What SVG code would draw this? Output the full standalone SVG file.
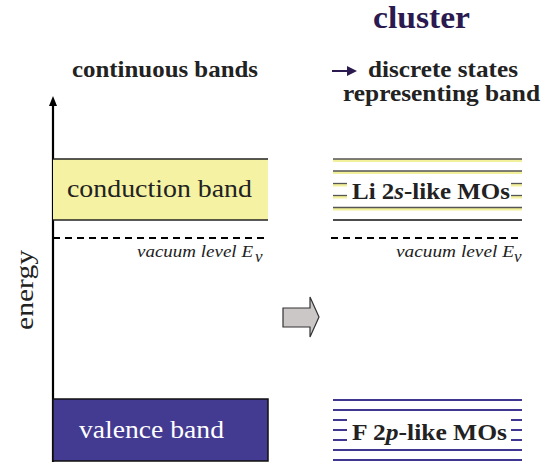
<svg xmlns="http://www.w3.org/2000/svg" width="550" height="464" viewBox="0 0 550 464">
<defs>
<style>
.serif{font-family:"Liberation Serif","Times New Roman",serif;}
.hdr{font-size:23px;font-weight:bold;fill:#222;}
.ylw{stroke:#f2f09a;stroke-width:3;}
.ydk{stroke:#555;stroke-width:1.3;}
.blu{stroke:#3e3690;stroke-width:2;}
.dash{stroke:#000;stroke-width:2;stroke-dasharray:7,5;}
.vac{font-size:17px;font-style:italic;fill:#222;}
</style>
</defs>
<rect width="550" height="464" fill="#fff"/>

<g id="titles" class="serif">
<text x="373" y="28" font-size="31" font-weight="bold" fill="#2b1a4f" textLength="97" lengthAdjust="spacingAndGlyphs">cluster</text>
<text x="72" y="77" class="hdr" textLength="186" lengthAdjust="spacingAndGlyphs">continuous bands</text>
<text x="368" y="77" class="hdr" textLength="150" lengthAdjust="spacingAndGlyphs">discrete states</text>
<text x="343" y="101" class="hdr" textLength="197" lengthAdjust="spacingAndGlyphs">representing band</text>
</g>
<g id="hdr-arrow">
<line x1="332" y1="71" x2="350" y2="71" stroke="#2b1a4f" stroke-width="2"/>
<path d="M347,66 L357,71 L347,76 Z" fill="#2b1a4f"/>
</g>

<g id="energy-axis">
<line x1="53" y1="462" x2="53" y2="106" stroke="#000" stroke-width="2.2"/>
<path d="M49,106 L53,96 L57,106 Z" fill="#000"/>
<text class="serif" x="0" y="0" font-size="26" fill="#222" textLength="80" lengthAdjust="spacingAndGlyphs" transform="translate(33,330) rotate(-90)">energy</text>
</g>

<g id="conduction-band">
<rect x="53" y="159" width="215" height="61" fill="#f5f3a3"/>
<line x1="53" y1="159" x2="268" y2="159" stroke="#222" stroke-width="1.5"/>
<line x1="53" y1="220" x2="268" y2="220" stroke="#222" stroke-width="1.5"/>
<text class="serif" x="67" y="197" font-size="26" fill="#222" textLength="185" lengthAdjust="spacingAndGlyphs">conduction band</text>
</g>

<g id="vacuum-left">
<line x1="53" y1="238" x2="268" y2="238" class="dash"/>
<text class="serif vac" x="137" y="257" textLength="116" lengthAdjust="spacingAndGlyphs">vacuum level E</text>
<text class="serif vac" x="255" y="262" font-size="11">v</text>
</g>

<g id="valence-band">
<rect x="53" y="399" width="215" height="62" fill="#433b91" stroke="#111" stroke-width="1.5"/>
<text class="serif" x="79" y="438" font-size="26" fill="#fff" textLength="145" lengthAdjust="spacingAndGlyphs">valence band</text>
</g>

<g id="transform-arrow">
<path d="M283,308 L310,308 L310,297 L319,317 L310,337 L310,327 L283,327 Z" fill="#cbc7c7" stroke="#333" stroke-width="1.2"/>
</g>

<g id="li-mos">
<g class="ylw">
<line x1="333" y1="160.5" x2="522" y2="160.5"/>
<line x1="333" y1="172.5" x2="522" y2="172.5"/>
<line x1="333" y1="185" x2="347" y2="185"/>
<line x1="511" y1="185" x2="522" y2="185"/>
<line x1="333" y1="197" x2="347" y2="197"/>
<line x1="511" y1="197" x2="522" y2="197"/>
<line x1="333" y1="209" x2="522" y2="209"/>
</g>
<g class="ydk">
<line x1="333" y1="159" x2="522" y2="159"/>
<line x1="333" y1="171" x2="522" y2="171"/>
<line x1="333" y1="183.5" x2="347" y2="183.5"/>
<line x1="511" y1="183.5" x2="522" y2="183.5"/>
<line x1="333" y1="195.5" x2="347" y2="195.5"/>
<line x1="511" y1="195.5" x2="522" y2="195.5"/>
<line x1="333" y1="207.5" x2="522" y2="207.5"/>
</g>
<line x1="333" y1="220" x2="522" y2="220" stroke="#111" stroke-width="1.6"/>
<text class="serif" x="352" y="199" font-size="24" font-weight="bold" fill="#222" textLength="158" lengthAdjust="spacingAndGlyphs">Li 2<tspan font-style="italic">s</tspan>-like MOs</text>
</g>

<g id="vacuum-right">
<line x1="331" y1="238" x2="523" y2="238" class="dash"/>
<text class="serif vac" x="396" y="257" textLength="118" lengthAdjust="spacingAndGlyphs">vacuum level E</text>
<text class="serif vac" x="514" y="262" font-size="11">v</text>
</g>

<g id="f-mos" class="blu">
<line x1="333" y1="400" x2="522" y2="400"/>
<line x1="333" y1="410" x2="522" y2="410"/>
<line x1="333" y1="420" x2="347" y2="420"/>
<line x1="511" y1="420" x2="522" y2="420"/>
<line x1="333" y1="430" x2="347" y2="430"/>
<line x1="511" y1="430" x2="522" y2="430"/>
<line x1="333" y1="440" x2="347" y2="440"/>
<line x1="511" y1="440" x2="522" y2="440"/>
<line x1="333" y1="450" x2="522" y2="450"/>
<line x1="333" y1="460" x2="522" y2="460"/>
<text class="serif" x="352" y="440" font-size="24" font-weight="bold" fill="#222" stroke="none" textLength="155" lengthAdjust="spacingAndGlyphs">F 2<tspan font-style="italic">p</tspan>-like MOs</text>
</g>
</svg>
